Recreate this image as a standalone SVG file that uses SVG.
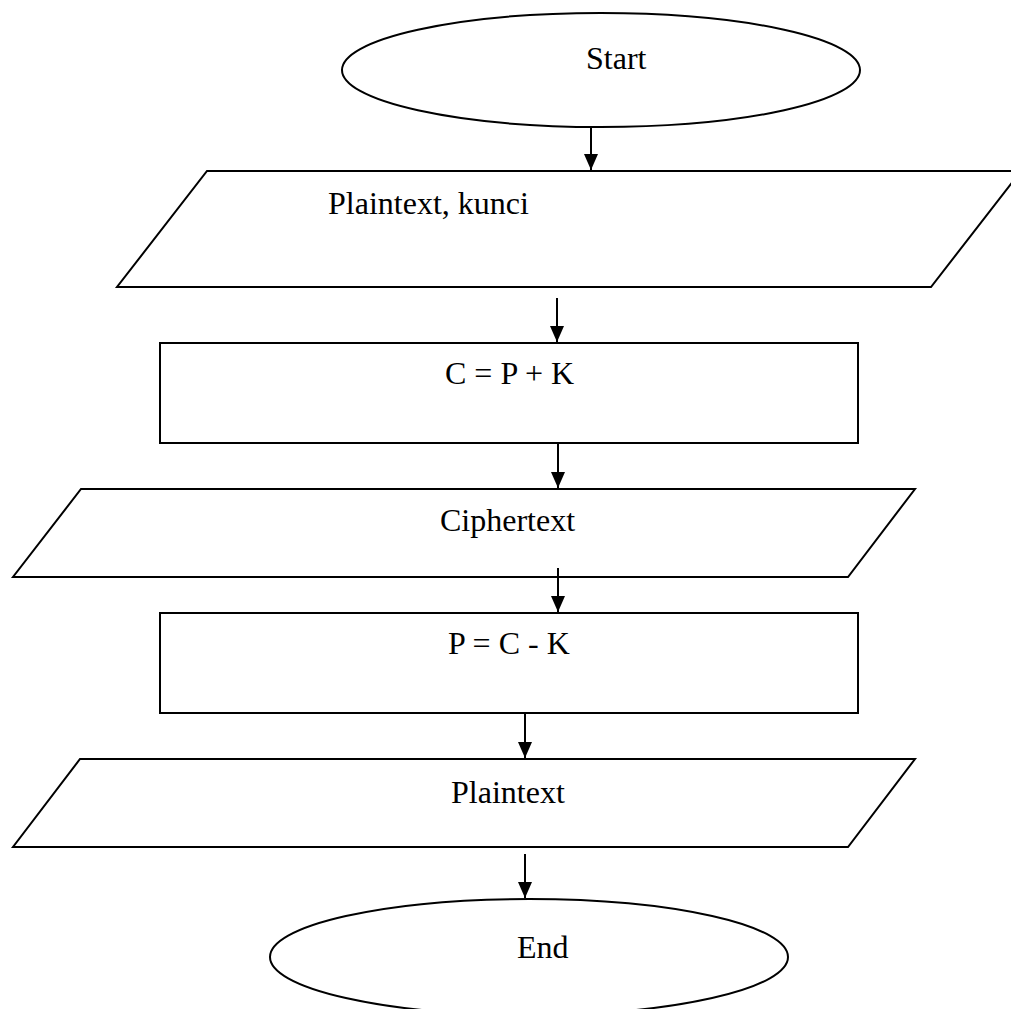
<svg xmlns="http://www.w3.org/2000/svg" width="1011" height="1009" viewBox="0 0 1011 1009">
  <style>
    .shape { fill: #ffffff; stroke: #000000; stroke-width: 2; }
    .label { font-family: "Liberation Serif", "Times New Roman", serif; font-size: 32px; fill: #000000; }
    .flow { stroke: #000000; stroke-width: 2; fill: none; marker-end: url(#arrow); }
  </style>
  <defs>
    <marker id="arrow" markerUnits="userSpaceOnUse" markerWidth="16" markerHeight="16" viewBox="0 0 16 14" refX="16" refY="7" orient="auto">
      <path d="M0,0 L16,7 L0,14 Z" fill="#000000"/>
    </marker>
  </defs>
  <rect width="1011" height="1009" fill="#ffffff"/>

  <g id="start">
    <ellipse class="shape" cx="601" cy="70" rx="259" ry="57"/>
    <text class="label" x="586" y="69">Start</text>
  </g>

  <g id="input">
    <polygon class="shape" points="207,171 1021,171 931,287 117,287"/>
    <text class="label" x="328" y="214">Plaintext, kunci</text>
  </g>

  <g id="encrypt">
    <rect class="shape" x="160" y="343" width="698" height="100"/>
    <text class="label" x="445" y="384">C = P + K</text>
  </g>

  <g id="ciphertext">
    <polygon class="shape" points="81,489 915,489 848,577 13,577"/>
    <text class="label" x="440" y="531">Ciphertext</text>
  </g>

  <g id="decrypt">
    <rect class="shape" x="160" y="613" width="698" height="100"/>
    <text class="label" x="448" y="654">P = C - K</text>
  </g>

  <g id="output">
    <polygon class="shape" points="80,759 915,759 848,847 13,847"/>
    <text class="label" x="451" y="803">Plaintext</text>
  </g>

  <g id="end">
    <ellipse class="shape" cx="529" cy="957" rx="259" ry="58"/>
    <text class="label" x="517" y="958">End</text>
  </g>

  <g id="connectors">
    <line class="flow" x1="591" y1="127" x2="591" y2="170"/>
    <line class="flow" x1="557" y1="298" x2="557" y2="342"/>
    <line class="flow" x1="558" y1="444" x2="558" y2="488"/>
    <line class="flow" x1="558" y1="568" x2="558" y2="612"/>
    <line class="flow" x1="525" y1="714" x2="525" y2="758"/>
    <line class="flow" x1="525" y1="854" x2="525" y2="898"/>
  </g>
</svg>
